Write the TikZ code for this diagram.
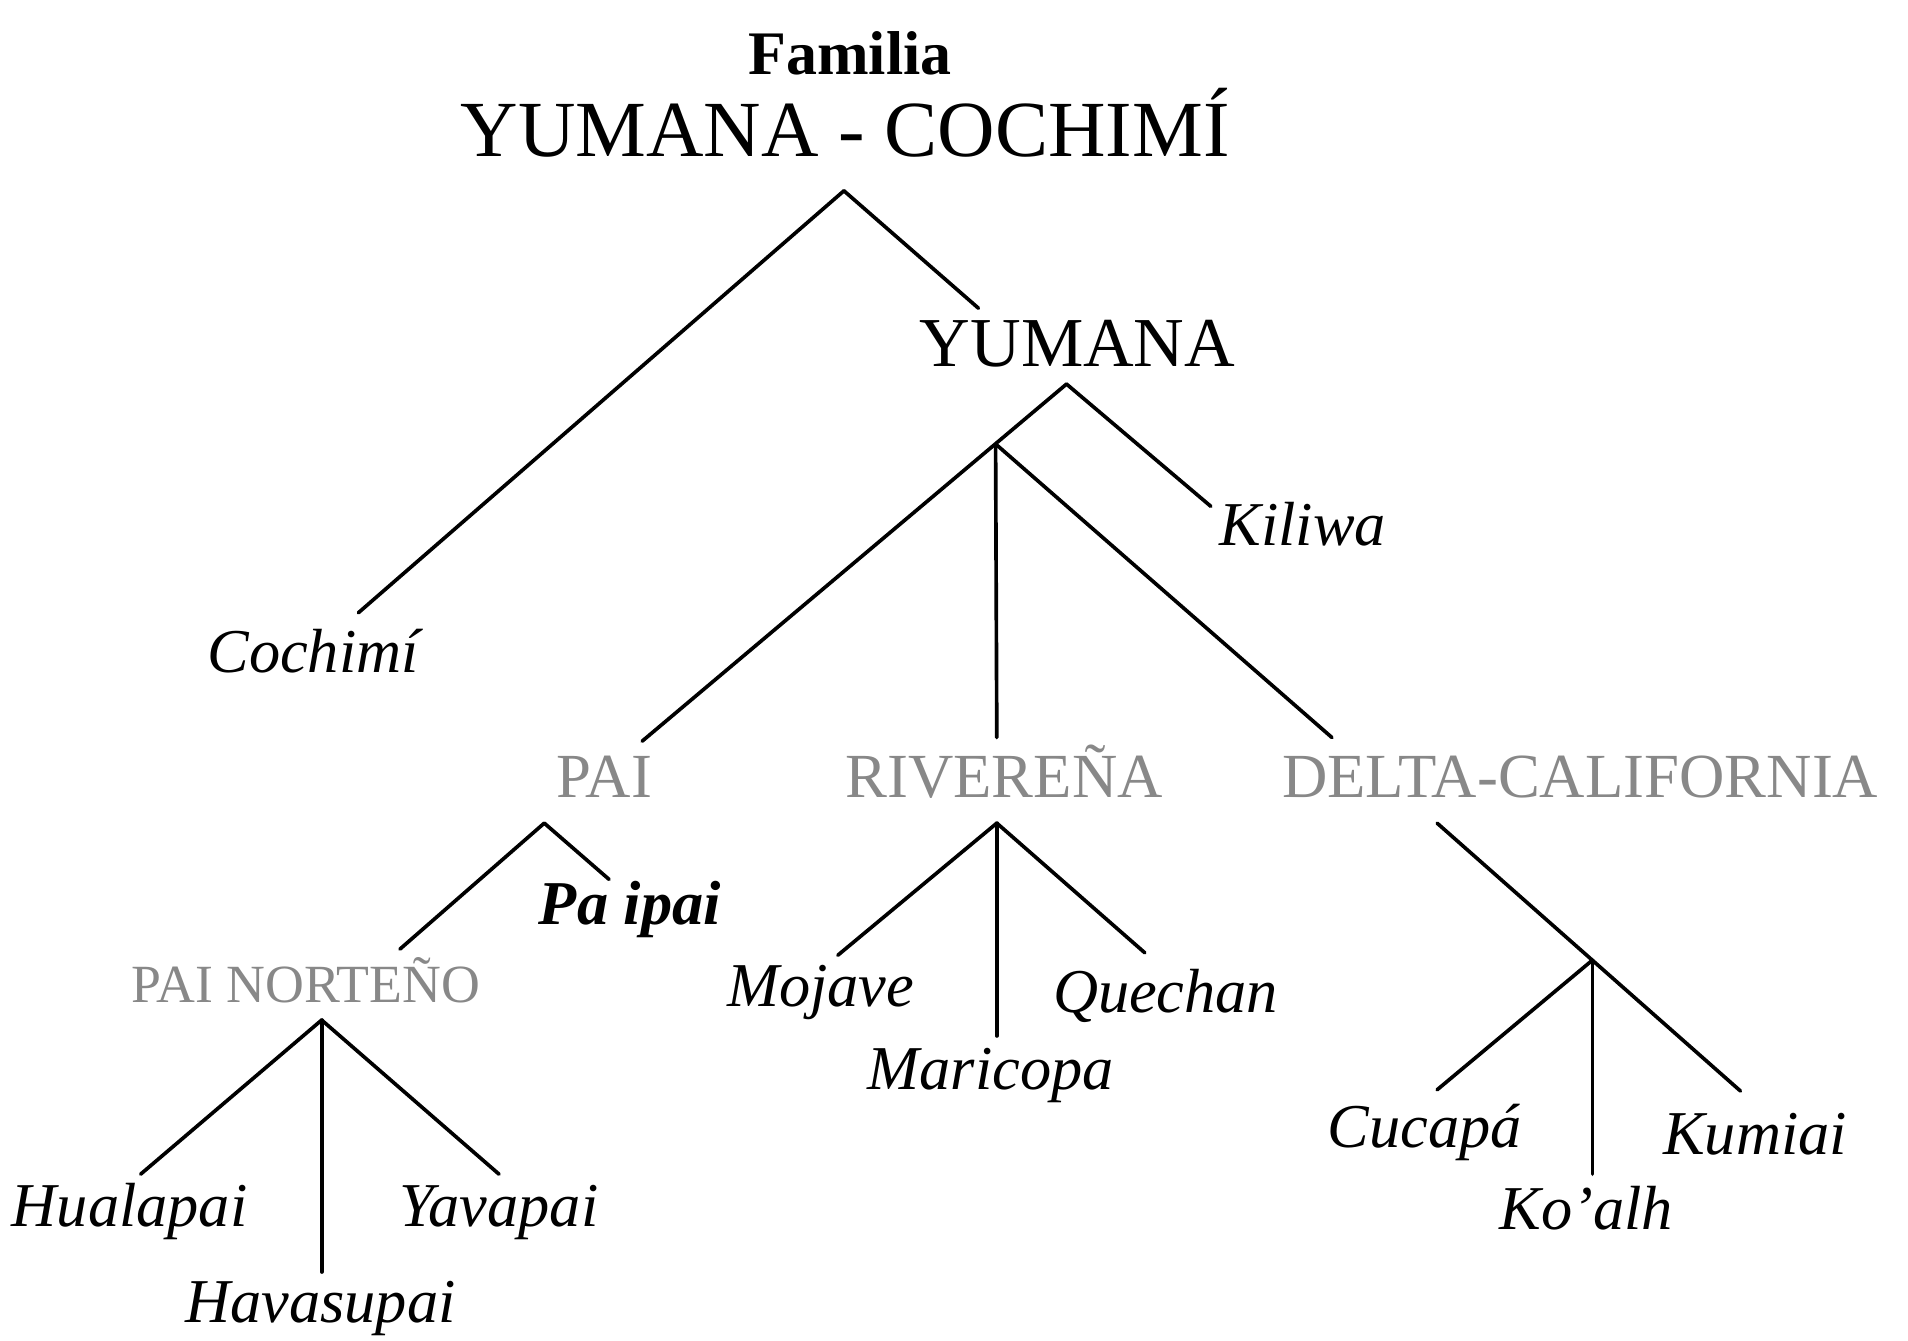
\documentclass[tikz,border=0pt]{standalone}
\usepackage{fontspec}
\setmainfont{Liberation Serif}
\usepackage{tikz}
\definecolor{groupgray}{RGB}{136,136,136}

\begin{document}
\begin{tikzpicture}[x=0.01cm,y=-0.01cm,line width=0.85pt,line cap=round]
\tikzstyle{family}=[anchor=base,inner sep=0pt,text=black]
\tikzstyle{group}=[anchor=base,inner sep=0pt,text=groupgray,font=\fontsize{14.6}{17}\selectfont]
\tikzstyle{lang}=[anchor=base,inner sep=0pt,text=black,font=\fontsize{14.5}{17}\selectfont\itshape]
\useasboundingbox (0,0) rectangle (1560,1096);
% titles
\node[family,font=\fontsize{14.4}{17}\selectfont\bfseries] (fam) at (695,61) {Familia};
\node[family,font=\fontsize{18.5}{22}\selectfont] (yc) at (691,128) {YUMANA - COCHIMÍ};
\node[family,font=\fontsize{16.3}{19}\selectfont] (yum) at (881,300) {YUMANA};
% groups
\node[group] (pai) at (494,652) {PAI};
\node[group] (riv) at (821,652) {RIVEREÑA};
\node[group] (dlt) at (1292,652) {DELTA-CALIFORNIA};
\node[group,font=\fontsize{12.5}{15}\selectfont] (pno) at (250,820) {PAI NORTEÑO};
% languages
\node[lang] (coc) at (256,550) {Cochimí};
\node[lang] (kil) at (1065,446) {Kiliwa};
\node[lang,font=\fontsize{14.5}{17}\selectfont\bfseries\itshape] (pip) at (515,756) {Pa ipai};
\node[lang] (moj) at (671,823) {Mojave};
\node[lang] (mar) at (810,891) {Maricopa};
\node[lang] (que) at (953,828) {Quechan};
\node[lang] (hua) at (106,1003) {Hualapai};
\node[lang] (hav) at (262,1081) {Havasupai};
\node[lang] (yav) at (408,1003) {Yavapai};
\node[lang] (cuc) at (1165,938) {Cucapá};
\node[lang] (koa) at (1297,1005) {Ko’alh};
\node[lang] (kum) at (1435,944) {Kumiai};

% branch points
\coordinate (yc-b) at (690,156);
\coordinate (yum-b) at (872,314);
\coordinate (yum-b2) at (814,363);
\coordinate (pai-b) at (445,673);
\coordinate (riv-b) at (815,673);
\coordinate (dlt-b) at (1175,673);
\coordinate (dlt-b2) at (1302,785);
\coordinate (pno-b) at (263,834);
% line ends
\coordinate (coc-e) at (293,501);
\coordinate (yum-e) at (800,252);
\coordinate (kil-e) at (990,414);
\coordinate (pai-e) at (525,606);
\coordinate (riv-e) at (815,603);
\coordinate (dlt-e) at (1089,603);
\coordinate (pno-e) at (327,776);
\coordinate (pip-e) at (498,719);
\coordinate (moj-e) at (685,781);
\coordinate (mar-e) at (815,847);
\coordinate (que-e) at (936,779);
\coordinate (kum-e) at (1423,892);
\coordinate (cuc-e) at (1175,891);
\coordinate (koa-e) at (1302,960);
\coordinate (hua-e) at (115,960);
\coordinate (hav-e) at (263,1040);
\coordinate (yav-e) at (408,960);

\path[draw] (yc-b) edge (coc-e);
\path[draw] (yc-b) edge (yum-e);

\path[draw] (yum-b) edge (pai-e);
\path[draw] (yum-b) edge (kil-e);
\path[draw] (yum-b2) edge (riv-e);
\path[draw] (yum-b2) edge (dlt-e);

\path[draw] (pai-b) edge (pno-e);
\path[draw] (pai-b) edge (pip-e);

\path[draw] (riv-b) edge (moj-e);
\path[draw] (riv-b) edge (mar-e);
\path[draw] (riv-b) edge (que-e);

\path[draw] (dlt-b) edge (kum-e);
\path[draw] (dlt-b2) edge (cuc-e);
\path[draw] (dlt-b2) edge (koa-e);

\path[draw] (pno-b) edge (hua-e);
\path[draw] (pno-b) edge (hav-e);
\path[draw] (pno-b) edge (yav-e);

\end{tikzpicture}
\end{document}
